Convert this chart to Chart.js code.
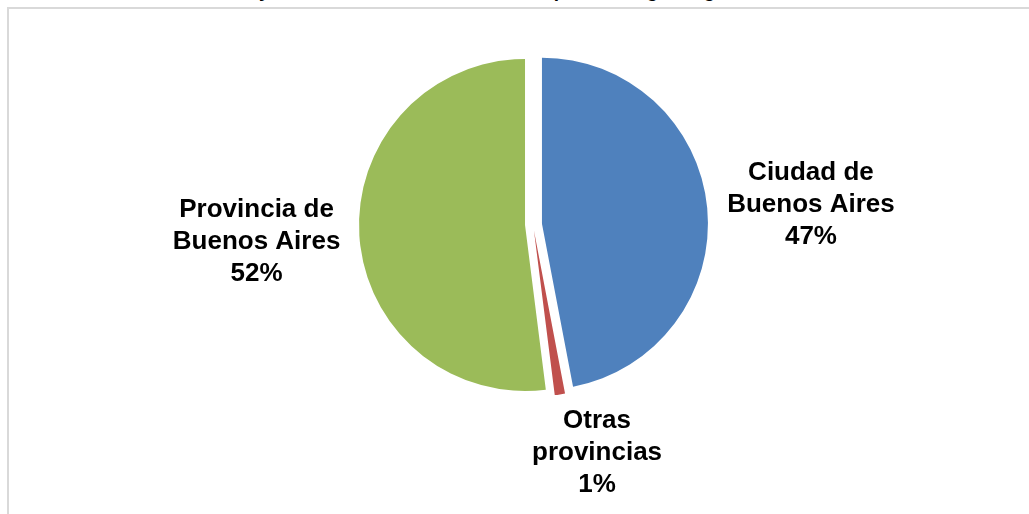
<!DOCTYPE html>
<html>
<head>
<meta charset="utf-8">
<script src="https://cdn.jsdelivr.net/npm/chart.js@4.4.1/dist/chart.umd.min.js"></script>
<style>
  html, body { margin: 0; padding: 0; background: #fff; overflow: hidden; }
  #wrap { position: relative; width: 1029px; height: 514px; }
  #frame { position: absolute; left: 7px; top: 7px; width: 1040px; height: 600px;
           border: 2px solid #d9d9d9; box-sizing: border-box; }
  #title { position: absolute; left: 0; width: 1064px; top: -20px; text-align: center;
           font: bold 19px "Liberation Sans", Arial, sans-serif; color: #000; white-space: nowrap; }
  canvas { position: absolute; left: 0; top: 0; }
</style>
</head>
<body>
<div id="wrap">
  <div id="frame"></div>
  <div id="title">niñas y adolescentes con medida excepcional según lugar de residencia</div>
  <canvas id="chartPie" width="1029" height="514"></canvas>
</div>
<script>
// === Datos ===
const categorias = ["Ciudad de Buenos Aires", "Otras provincias", "Provincia de Buenos Aires"];
const lineasEtiqueta = [["Ciudad de", "Buenos Aires"], ["Otras", "provincias"], ["Provincia de", "Buenos Aires"]];
const valores = [47.0, 1.0, 52.0];
const colores = ["#4F81BD", "#C0504D", "#9BBB59"];

// separación de cada porción (px) y ajuste fino de etiquetas
const separacion = [9, 6, 8];
const ajusteEtiqueta = [[0, -1], [34, -9], [1, 5]];

const total = valores.reduce((a, b) => a + b, 0);

function centroPorcion(arc, i) {
  const p = arc.getProps(["x", "y", "startAngle", "endAngle", "outerRadius"], true);
  const mid = (p.startAngle + p.endAngle) / 2;
  return {
    x: p.x + Math.cos(mid) * separacion[i],
    y: p.y + Math.sin(mid) * separacion[i],
    mid: mid,
    r: p.outerRadius
  };
}

// === Porciones separadas (sin agrandar el radio) ===
const separarPlugin = {
  id: "separar",
  beforeDatasetDraw(chart, args) {
    const ctx = chart.ctx;
    const meta = args.meta;
    meta.data.forEach((arc, i) => {
      const c = centroPorcion(arc, i);
      const p = arc.getProps(["x", "y"], true);
      ctx.save();
      ctx.translate(c.x - p.x, c.y - p.y);
      arc.draw(ctx);
      ctx.restore();
    });
    return false;
  }
};

// === Etiquetas fuera del círculo ===
const etiquetasPlugin = {
  id: "etiquetas",
  afterDraw(chart) {
    const ctx = chart.ctx;
    const meta = chart.getDatasetMeta(0);
    ctx.save();
    ctx.font = "bold 26px 'Liberation Sans', Arial, sans-serif";
    ctx.fillStyle = "#000";
    ctx.textBaseline = "middle";
    ctx.textAlign = "center";
    const lh = 32;
    meta.data.forEach((arc, i) => {
      const c = centroPorcion(arc, i);
      const r = c.r + 20;
      const ax = c.x + Math.cos(c.mid) * r + ajusteEtiqueta[i][0];
      const ay = c.y + Math.sin(c.mid) * r + ajusteEtiqueta[i][1];
      const lines = lineasEtiqueta[i].concat([Math.round(valores[i] / total * 100) + "%"]);
      const w = Math.max(...lines.map(t => ctx.measureText(t).width));
      const cs = Math.cos(c.mid);
      let left, top;
      if (cs > 0.5) { left = ax; top = ay - lines.length * lh / 2; }
      else if (cs < -0.5) { left = ax - w; top = ay - lines.length * lh / 2; }
      else { left = ax - w / 2; top = ay; }
      lines.forEach((t, k) => {
        ctx.fillText(t, left + w / 2, top + lh / 2 + k * lh);
      });
    });
    ctx.restore();
  }
};

new Chart(document.getElementById("chartPie"), {
  type: "pie",
  data: {
    labels: categorias,
    datasets: [{
      data: valores,
      backgroundColor: colores,
      borderWidth: 0
    }]
  },
  options: {
    responsive: false,
    animation: false,
    radius: 166,
    layout: { padding: { left: 37, right: 0, top: 0, bottom: 65 } },
    plugins: {
      legend: { display: false },
      tooltip: { enabled: false }
    }
  },
  plugins: [separarPlugin, etiquetasPlugin]
});
</script>
</body>
</html>
